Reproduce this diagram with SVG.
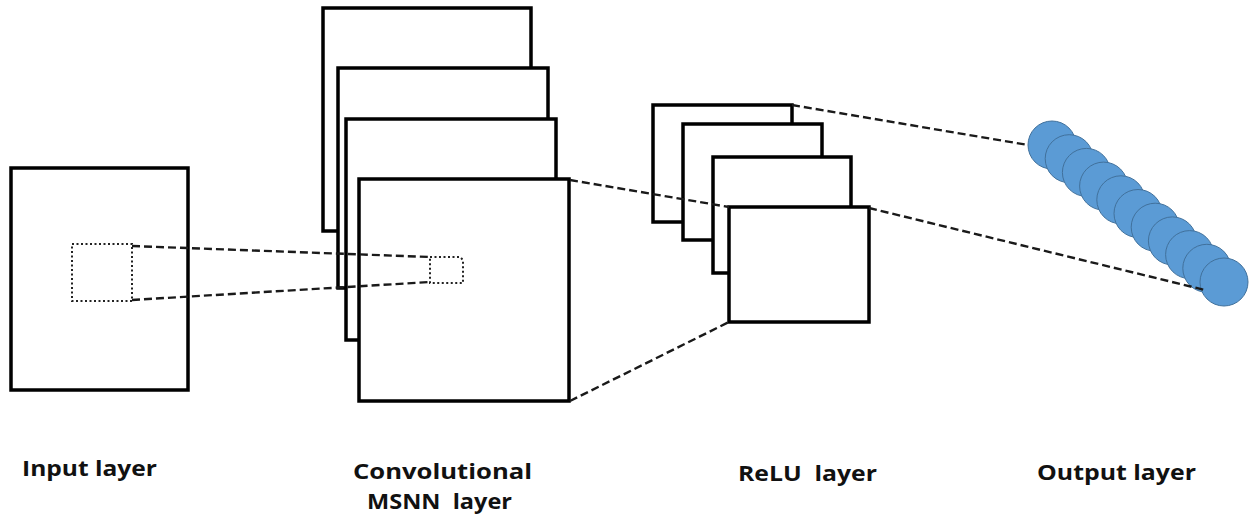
<svg xmlns="http://www.w3.org/2000/svg" width="1252" height="515" viewBox="0 0 1252 515">
  <style>
    .map { fill: #ffffff; stroke: #000000; stroke-width: 3.5; }
    .win { fill: none; stroke: #222222; stroke-width: 2; stroke-dasharray: 2 2.5; }
    .link { fill: none; stroke: #1a1a1a; stroke-width: 2.4; stroke-dasharray: 8 4; }
    .unit { fill: #5b9bd5; stroke: #41719c; stroke-width: 1; }
    .label { font-family: "Open Sans", "Liberation Sans", sans-serif; font-weight: bold; font-size: 21px; fill: #111111; }
  </style>
  <rect width="1252" height="515" fill="#ffffff"/>

  <!-- input image with receptive window -->
  <g id="input-layer">
    <rect class="map" x="11" y="168" width="177" height="222"/>
    <rect class="win" x="72" y="244" width="60" height="57"/>
  </g>

  <!-- stacked feature maps of the convolutional layer -->
  <g id="conv-layer">
    <rect class="map" x="323" y="8" width="208" height="223"/>
    <rect class="map" x="338" y="68" width="210" height="220"/>
    <rect class="map" x="346" y="119" width="210" height="221"/>
    <rect class="map" x="359" y="179" width="210" height="222"/>
  </g>

  <!-- stacked maps of the ReLU layer -->
  <g id="relu-layer">
    <rect class="map" x="653" y="105" width="139" height="117"/>
    <rect class="map" x="683" y="124" width="139" height="116"/>
    <rect class="map" x="713" y="157" width="138" height="116"/>
    <rect class="map" x="729" y="207" width="140" height="115"/>
  </g>

  <!-- projection lines between layers -->
  <g id="connectors">
    <line class="link" x1="132" y1="246" x2="430" y2="257"/>
    <line class="link" x1="132" y1="300" x2="430" y2="282"/>
    <line class="link" x1="570" y1="180" x2="729" y2="207"/>
    <line class="link" x1="570" y1="401" x2="729" y2="322"/>
    <line class="link" x1="792" y1="105" x2="1028" y2="145"/>
  </g>

  <!-- receptive window mapped onto the front convolution map -->
  <g id="conv-window">
    <path class="win" d="M430 257 H460 L463 260 V283 H430 Z"/>
  </g>

  <!-- fully connected output units -->
  <g id="output-layer">
    <circle class="unit" cx="1052" cy="145" r="24"/>
    <circle class="unit" cx="1069.2" cy="158.7" r="24"/>
    <circle class="unit" cx="1086.4" cy="172.4" r="24"/>
    <circle class="unit" cx="1103.6" cy="186.1" r="24"/>
    <circle class="unit" cx="1120.8" cy="199.8" r="24"/>
    <circle class="unit" cx="1138" cy="213.5" r="24"/>
    <circle class="unit" cx="1155.2" cy="227.2" r="24"/>
    <circle class="unit" cx="1172.4" cy="240.9" r="24"/>
    <circle class="unit" cx="1189.6" cy="254.6" r="24"/>
    <circle class="unit" cx="1206.8" cy="268.3" r="24"/>
    <circle class="unit" cx="1224" cy="282" r="24"/>
  </g>

  <g id="connector-to-output">
    <line class="link" x1="869" y1="208" x2="1205" y2="290"/>
  </g>

  <!-- layer captions -->
  <g id="captions">
    <text class="label" x="22" y="476" textLength="135" lengthAdjust="spacingAndGlyphs">Input layer</text>
    <text class="label" x="353" y="479" textLength="179" lengthAdjust="spacingAndGlyphs">Convolutional</text>
    <text class="label" x="367" y="509" textLength="145" lengthAdjust="spacingAndGlyphs" xml:space="preserve">MSNN  layer</text>
    <text class="label" x="738" y="481" textLength="139" lengthAdjust="spacingAndGlyphs" xml:space="preserve">ReLU  layer</text>
    <text class="label" x="1037" y="480" textLength="159" lengthAdjust="spacingAndGlyphs">Output layer</text>
  </g>
</svg>
